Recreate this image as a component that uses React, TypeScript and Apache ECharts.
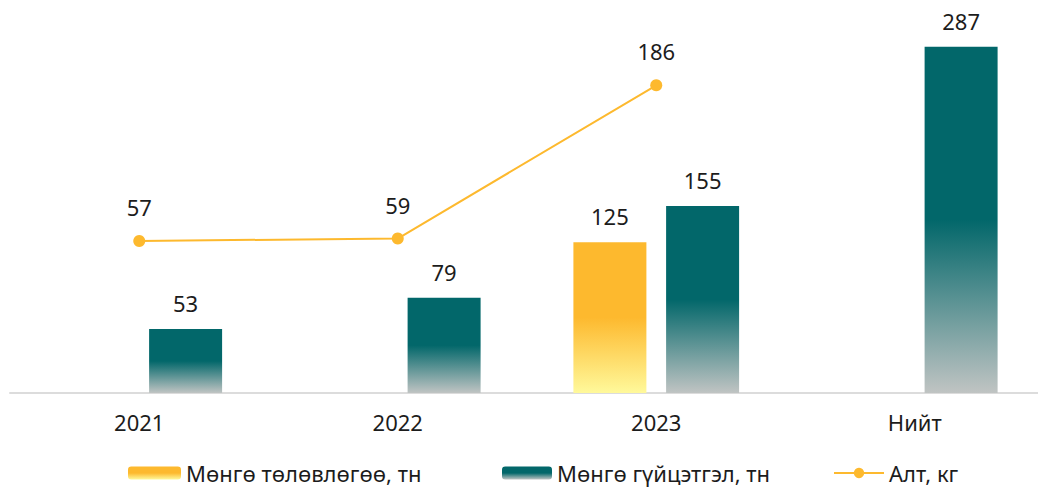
import React, { useEffect, useRef } from "react";
import * as echarts from "echarts";

const categories = ["2021", "2022", "2023", "Нийт"];
const planSilver = [null, null, 125, null];
const actualSilver = [53, 79, 155, 287];
const gold = [57, 59, 186, null];
const seriesNames = ["Мөнгө төлөвлөгөө, тн", "Мөнгө гүйцэтгэл, тн", "Алт, кг"];

const FONT = "Noto Sans";
const TEXT = "#1c1c1c";

export default function App() {
  const ref = useRef<HTMLDivElement>(null);
  useEffect(() => {
    if (!ref.current) return;
    const chart = echarts.init(ref.current, undefined, { renderer: "svg" });
    const yellow = new echarts.graphic.LinearGradient(0, 0, 0, 1, [
      { offset: 0, color: "#FDB92E" },
      { offset: 0.5, color: "#FDB92E" },
      { offset: 1, color: "#FFF99B" },
    ]);
    const teal = new echarts.graphic.LinearGradient(0, 0, 0, 1, [
      { offset: 0, color: "#02676A" },
      { offset: 0.5, color: "#02676A" },
      { offset: 1, color: "#C0C4C3" },
    ]);
    const label = {
      show: true,
      position: "top" as const,
      color: TEXT,
      fontFamily: FONT,
      fontSize: 22,
      distance: 15,
    };
    const legendBase = {
      top: 457,
      itemHeight: 13,
      textStyle: { color: TEXT, fontFamily: FONT, fontSize: 22 },
    };
    chart.setOption({
      animation: false,
      textStyle: { fontFamily: FONT },
      grid: { left: 10, right: 0, top: 31, bottom: 94, containLabel: false },
      legend: [
        { ...legendBase, left: 123, itemWidth: 53, data: [seriesNames[0]] },
        { ...legendBase, left: 497, itemWidth: 50, data: [seriesNames[1]] },
        { ...legendBase, left: 828, itemWidth: 50, data: [seriesNames[2]] },
      ],
      xAxis: {
        type: "category",
        data: categories,
        axisLine: { lineStyle: { color: "#dcdcdc", width: 2 } },
        axisTick: { show: false },
        axisLabel: { color: TEXT, fontFamily: FONT, fontSize: 22, margin: 18 },
      },
      yAxis: [
        { type: "value", min: 0, max: 300, show: false },
        { type: "value", min: -69, max: 231, show: false },
      ],
      series: [
        {
          name: seriesNames[0],
          type: "bar",
          data: planSilver,
          barWidth: 73,
          barGap: "27%",
          itemStyle: { color: yellow },
          label,
        },
        {
          name: seriesNames[1],
          type: "bar",
          data: actualSilver,
          barWidth: 73,
          barGap: "27%",
          itemStyle: { color: teal },
          label,
        },
        {
          name: seriesNames[2],
          type: "line",
          yAxisIndex: 1,
          data: gold,
          symbol: "circle",
          symbolSize: 12,
          lineStyle: { color: "#FDB92E", width: 2 },
          itemStyle: { color: "#FDB92E" },
          label: { ...label, distance: 17 },
        },
      ],
    });
    return () => chart.dispose();
  }, []);
  return (
    <div style={{ position: "absolute", left: 0, top: 0, width: 1038, height: 487, overflow: "hidden" }}>
      <div ref={ref} style={{ width: 1044, height: 487 }} />
    </div>
  );
}
